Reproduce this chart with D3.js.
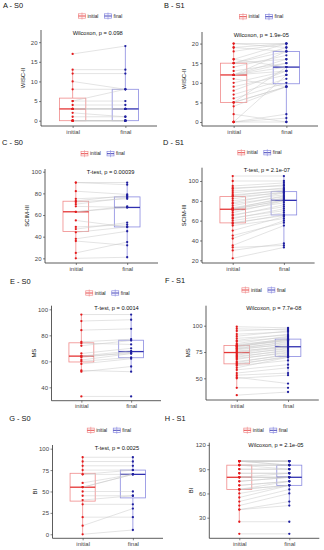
<!DOCTYPE html>
<html>
<head>
<meta charset="utf-8">
<script src="https://cdn.jsdelivr.net/npm/d3@7"></script>
<style>
body{margin:0;background:#fff}
text{font-family:"Liberation Sans",Arial,sans-serif}
</style>
</head>
<body>
<div id="plot"></div>
<script>
// groups / labels
const groups = ["initial", "final"]
const titles = ["A - S0", "B - S1", "C - S0", "D - S1", "E - S0", "F - S1", "G - S0", "H - S1"]
const yTitles = ["WISC-II", "WISC-II", "SCIM-III", "SCIM-III", "MS", "MS", "BI", "BI"]
const tests = ["Wilcoxon, p = 0.098", "Wilcoxon, p = 1.9e-05", "T-test, p = 0.00039", "T-test, p = 2.1e-07",
	"T-test, p = 0.0014", "Wilcoxon, p = 7.7e-08", "T-test, p = 0.0025", "Wilcoxon, p = 2.1e-05"]
const yTicks = [[0,5,10,15,20], [0,5,10,15,20], [20,40,60,80,100], [20,40,60,80,100],
	[40,60,80,100], [50,75,100], [0,25,50,75,100], [30,60,90,120]]

// paired values, one entry per subject (initial[i] -> final[i])
const wiscS0Initial = [17,13,12,10,8,5,5,4,3,3,3,3,2,1,0,0,0,0,0,0]
const wiscS0Final   = [19,13,12,8,8,8,5,4,3,3,3,3,1,1,0,0,0,0,0,0]
const wiscS1Initial = [0,0,0,0,2,4,5,5,5,6,7,8,9,10,11,12,12,12,12,12,13,14,15,15,15,16,16,18,19,19,20,20]
const wiscS1Final   = [0,1,12,2,0,9,9,9,14,10,11,13,12,13,9,14,18,13,15,16,15,17,16,18,19,14,20,20,18,20,19,20]
const scimS0Initial = [20,25,36,38,44,47,49,55,63,63,68,70,72,73,75,82,90,90]
const scimS0Final   = [21,35,32,45,49,53,51,49,67,68,67,76,75,78,77,79,90,88]
const scimS1Initial = [22,30,33,35,42,45,50,55,57,58,60,62,63,65,66,68,70,71,72,72,73,75,77,78,80,82,84,85,86,88,90,92,93,95,100,105]
const scimS1Final   = [33,37,35,55,60,58,64,62,66,65,68,72,70,76,74,80,78,81,80,83,82,85,84,88,86,89,88,91,90,93,92,96,95,98,100,105]
const msS0Initial = [33,52,53,58,60,61,63,64,64,66,72,74,75,84,91,96]
const msS0Final   = [33,56,52,62,63,66,67,66,68,70,76,73,77,85,92,96]
const msS1Initial = [34,41,50,51,53,55,58,60,62,63,64,65,66,68,69,70,71,72,73,74,75,76,77,78,78,79,80,80,81,81,82,83,85,86,88,90,92,95,97,99]
const msS1Final   = [37,41,53,45,55,60,63,70,67,71,70,73,72,75,74,77,76,79,78,80,81,80,83,82,85,84,86,87,86,88,87,90,89,92,91,95,94,97,96,98]
const biS0Initial = [0,10,20,35,40,45,50,55,55,60,70,70,75,80,85,90]
const biS0Final   = [5,30,20,35,45,45,50,70,70,70,75,70,75,80,85,90]
const biS1Initial = [10,25,40,40,45,50,55,60,65,65,65,70,70,75,75,80,80,80,80,85,85,90,90,95,95,95,95,100,100,100,100,100,100,100]
const biS1Final   = [10,25,50,45,60,65,70,70,70,70,75,75,75,80,80,80,80,80,85,85,85,90,90,90,95,95,95,95,95,100,100,100,100,100]

const initials = [wiscS0Initial, wiscS1Initial, scimS0Initial, scimS1Initial, msS0Initial, msS1Initial, biS0Initial, biS1Initial]
const finals = [wiscS0Final, wiscS1Final, scimS0Final, scimS1Final, msS0Final, msS1Final, biS0Final, biS1Final]

// panel geometry (pixels) and y range
const layout = [
	{left:41, right:157, top:30, bottom:126, dom:[-1.35,23.1], tx:3, ty:8, legY:16, labDx:0},
	{left:202, right:318, top:32, bottom:126, dom:[-1.02,22.95], tx:164, ty:8, legY:16.7, labDx:0},
	{left:45, right:158, top:169, bottom:263, dom:[15.7,102.5], tx:2, ty:145, legY:153.7, labDx:11},
	{left:202, right:314.6, top:167.7, bottom:263, dom:[17.3,113.4], tx:163, ty:145, legY:152.7, labDx:11},
	{left:51.5, right:161, top:305.7, bottom:400.7, dom:[29.7,102.8], tx:10, ty:283.5, legY:293, labDx:13},
	{left:206, right:318.8, top:305.7, bottom:400, dom:[29.4,119], tx:165, ty:282.7, legY:290, labDx:9.5},
	{left:52.5, right:163, top:445, bottom:538.3, dom:[-4.7,104.3], tx:9.3, ty:421, legY:430.3, labDx:12},
	{left:209.3, right:319.3, top:442.7, bottom:538.3, dom:[4.5,122.8], tx:164.7, ty:421, legY:430.3, labDx:9},
]

const pointCol = {initial: "#e41a1c", final: "#1f1f9f"}
const boxCol = {initial: "#f08a8a", final: "#8a8ae0"}
const medCol = {initial: "#e53535", final: "#3030b0"}

const svg = d3.select("#plot").append("svg")
	.attr("width", 324).attr("height", 550)
	.style("background", "#fff")

function stats(v){
	const s = v.slice().sort(d3.ascending)
	const q1 = d3.quantile(s, 0.25), med = d3.quantile(s, 0.5), q3 = d3.quantile(s, 0.75)
	const iqr = q3 - q1
	const lo = d3.min(s.filter(d => d >= q1 - 1.5*iqr))
	const hi = d3.max(s.filter(d => d <= q3 + 1.5*iqr))
	return {q1, med, q3, lo, hi}
}

layout.forEach((L, p) => {
	const g = svg.append("g")
	const x = d3.scalePoint().domain(groups).range([L.left, L.right]).padding(0.6)
	const y = d3.scaleLinear().domain(L.dom).range([L.bottom, L.top])
	const bw = x.step() * 0.5
	const vals = {initial: initials[p], final: finals[p]}

	// boxes
	groups.forEach(k => {
		const s = stats(vals[k])
		const cx = x(k)
		g.append("line").attr("x1", cx).attr("x2", cx).attr("y1", y(s.q3)).attr("y2", y(s.hi))
			.attr("stroke", boxCol[k]).attr("stroke-width", 0.8)
		g.append("line").attr("x1", cx).attr("x2", cx).attr("y1", y(s.q1)).attr("y2", y(s.lo))
			.attr("stroke", boxCol[k]).attr("stroke-width", 0.8)
		g.append("rect").attr("x", cx - bw/2).attr("width", bw)
			.attr("y", y(s.q3)).attr("height", y(s.q1) - y(s.q3))
			.attr("fill", "#fff").attr("stroke", boxCol[k]).attr("stroke-width", 0.8)
		g.append("line").attr("x1", cx - bw/2).attr("x2", cx + bw/2).attr("y1", y(s.med)).attr("y2", y(s.med))
			.attr("stroke", medCol[k]).attr("stroke-width", 1.3)
	})

	// paired lines
	g.append("g").selectAll("line").data(initials[p]).enter().append("line")
		.attr("x1", x("initial")).attr("x2", x("final"))
		.attr("y1", d => y(d)).attr("y2", (d, i) => y(finals[p][i]))
		.attr("stroke", "#c8c8c8").attr("stroke-width", 0.5)

	// points
	groups.forEach(k => {
		g.append("g").selectAll("circle").data(vals[k]).enter().append("circle")
			.attr("cx", x(k)).attr("cy", d => y(d)).attr("r", 1.15)
			.attr("fill", pointCol[k])
	})

	// axes
	const ya = g.append("g").attr("transform", "translate(" + L.left + ",0)")
		.call(d3.axisLeft(y).tickValues(yTicks[p]).tickSize(2).tickPadding(1.5))
	const xa = g.append("g").attr("transform", "translate(0," + L.bottom + ")")
		.call(d3.axisBottom(x).tickSize(2).tickPadding(1.5))
	;[ya, xa].forEach(a => {
		a.select(".domain").attr("stroke", "#333").attr("stroke-width", 0.8)
		a.selectAll(".tick line").attr("stroke", "#333").attr("stroke-width", 0.6)
		a.selectAll("text").attr("fill", "#444").style("font-size", "6px")
	})
	ya.select(".domain").attr("d", "M0," + L.bottom + "V" + L.top)
	xa.select(".domain").attr("d", "M" + L.left + ",0H" + L.right)

	// y title
	g.append("text")
		.attr("transform", "translate(" + (L.left - 16) + "," + ((L.top + L.bottom)/2) + ") rotate(-90)")
		.attr("text-anchor", "middle").style("font-size", "5.9px").attr("fill", "#111")
		.text(yTitles[p])

	// panel title
	g.append("text").attr("x", L.tx).attr("y", L.ty)
		.style("font-size", "7.4px").attr("fill", "#111").text(titles[p])

	// test label
	g.append("text").attr("x", x("initial") + L.labDx).attr("y", L.top + 4.5)
		.style("font-size", "5.7px").attr("fill", "#111").text(tests[p])

	// legend
	const c = (L.left + L.right) / 2
	groups.forEach((k, i) => {
		const kx = c + (i == 0 ? -20.5 : 5.5)
		g.append("rect").attr("x", kx).attr("y", L.legY - 2.2).attr("width", 7).attr("height", 4.4)
			.attr("fill", "#fff").attr("stroke", boxCol[k]).attr("stroke-width", 0.7)
		g.append("line").attr("x1", kx).attr("x2", kx + 7).attr("y1", L.legY).attr("y2", L.legY)
			.attr("stroke", medCol[k]).attr("stroke-width", 0.9)
		g.append("line").attr("x1", kx + 3.5).attr("x2", kx + 3.5).attr("y1", L.legY - 3.5).attr("y2", L.legY + 3.5)
			.attr("stroke", boxCol[k]).attr("stroke-width", 0.6)
		g.append("text").attr("x", kx + 9).attr("y", L.legY + 1.7)
			.style("font-size", "4.8px").attr("fill", "#222").text(k)
	})
})
</script>
</body>
</html>
